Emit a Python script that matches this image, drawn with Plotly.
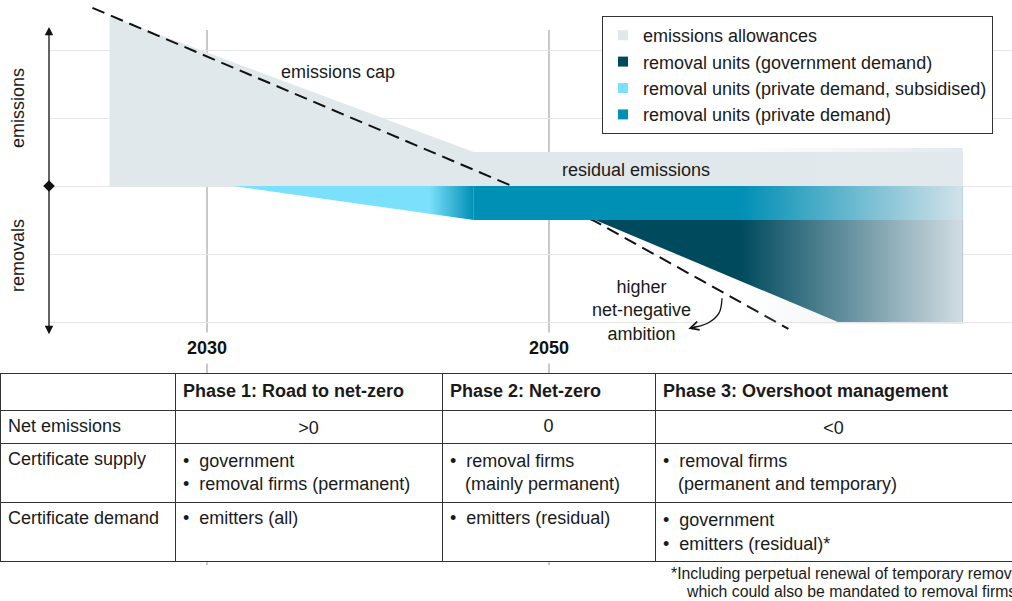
import plotly.graph_objects as go

FONT = "Liberation Sans, Arial, Helvetica, sans-serif"
TXT = "#1a1a1a"

# ---------------- data ----------------
tick_years = [2030, 2050]
tick_labels = ["2030", "2050"]
grid_levels = [-2, -1, 0, 1, 2]

allowance_x = [2024.3, 2024.3, 2045.6, 2074.2, 2074.2]
allowance_y = [0, 2.5, 0.5, 0.5, 0]

subsidised_x = [2031.5, 2045.6, 2045.6]
subsidised_y = [0, 0, -0.5]
subsidised_fade = [2043.0, 2045.6]

private_x = [2045.6, 2074.2, 2074.2, 2045.6]
private_y = [0, 0, -0.5, -0.5]

government_x = [2052.7, 2074.2, 2074.2, 2066.9]
government_y = [-0.5, -0.5, -2.0, -2.0]

fade_x = [2061.2, 2074.2, 2074.2, 2061.2]
fade_y = [0.56, 0.56, -2.03, -2.03]

cap_x = [2023.3, 2052.7, 2064.0]
cap_y = [2.62, -0.52, -2.1]

ambition_x = [2060.12, 2059.94, 2059.30, 2058.30]
ambition_y = [-1.65, -1.87, -2.015, -2.09]
ambition_tip = [2058.15, -2.10]

legend_names = [
    "emissions allowances",
    "removal units (government demand)",
    "removal units (private demand, subsidised)",
    "removal units (private demand)",
]

table_header = ["", "Phase 1: Road to net-zero", "Phase 2: Net-zero",
                "Phase 3: Overshoot management"]
row_net = ["Net emissions", "&gt;0", "0", "&lt;0"]
row_supply = ["Certificate supply",
              "\u2022  government<br>\u2022  removal firms (permanent)",
              "\u2022  removal firms<br>\u00a0\u00a0 (mainly permanent)",
              "\u2022  removal firms<br>\u00a0\u00a0 (permanent and temporary)"]
row_demand = ["Certificate demand",
              "\u2022  emitters (all)",
              "\u2022  emitters (residual)",
              "\u2022  government<br>\u2022  emitters (residual)*"]
footnote_lines = ["*Including perpetual renewal of temporary removals,",
                  "which could also be mandated to removal firms."]

# ---------------- style ----------------
ALLOW = "#e1e8ec"
GOV = "#004a5e"
SUB = "#7be0fb"
PRIV = "#008fb5"
FADE0 = "rgba(226,232,237,0)"
FADE1 = "rgba(226,232,237,0.93)"

X_MIN, X_MAX = 2020.7602, 2077.0760
Y_MIN, Y_MAX = -6.1029, 2.7353
X_DOM = [49 / 1012, 1]

fig = go.Figure()

# gridline-only subplot (vertical year lines)
fig.add_trace(go.Scatter(x=[None], y=[None], xaxis="x", yaxis="y",
                         showlegend=False, hoverinfo="skip"))

common = dict(xaxis="x2", yaxis="y2", hoverinfo="skip", showlegend=False,
              mode="lines", line=dict(width=0))

fig.add_trace(go.Scatter(x=allowance_x, y=allowance_y, fill="toself",
                         fillcolor=ALLOW, **common))
fig.add_trace(go.Scatter(x=cap_x, y=cap_y, xaxis="x2", yaxis="y2", mode="lines",
                         line=dict(color="#111111", width=2, dash="13px,7px"),
                         hoverinfo="skip", showlegend=False))
fig.add_trace(go.Scatter(x=subsidised_x, y=subsidised_y, fill="toself",
                         fillgradient=dict(type="horizontal",
                                           colorscale=[[0, SUB], [1, PRIV]],
                                           start=subsidised_fade[0],
                                           stop=subsidised_fade[1]),
                         **common))
fig.add_trace(go.Scatter(x=private_x, y=private_y, fill="toself",
                         fillcolor=PRIV, **common))
fig.add_trace(go.Scatter(x=government_x, y=government_y, fill="toself",
                         fillcolor=GOV, **common))
fig.add_trace(go.Scatter(x=fade_x, y=fade_y, fill="toself",
                         fillgradient=dict(type="horizontal",
                                           colorscale=[[0, FADE0], [1, FADE1]],
                                           start=fade_x[0], stop=fade_x[1]),
                         **common))
fig.add_trace(go.Scatter(x=ambition_x, y=ambition_y, xaxis="x2", yaxis="y2",
                         mode="lines", line=dict(color="#111111", width=1.3,
                                                 shape="spline"),
                         hoverinfo="skip", showlegend=False))
# axis centre diamond
fig.add_trace(go.Scatter(x=[X_MIN], y=[0], xaxis="x2", yaxis="y2", mode="markers",
                         marker=dict(symbol="diamond", size=9, color="#111111"),
                         cliponaxis=False, hoverinfo="skip", showlegend=False))

# legend entries
for name, col in zip(legend_names, [ALLOW, GOV, SUB, PRIV]):
    fig.add_trace(go.Scatter(x=[None], y=[None], xaxis="x2", yaxis="y2",
                             mode="markers", name=name,
                             marker=dict(symbol="square", size=10, color=col)))

# table
cell_line = dict(color="#333333", width=1)
colw = [175, 267, 213, 357]
fig.add_trace(go.Table(
    domain=dict(x=[0, 1], y=[(601 - 452) / 601, (601 - 373) / 601]),
    columnwidth=colw,
    header=dict(values=["<b>%s</b>" % h if h else "" for h in table_header],
                align="left", height=37, fill_color="white", line=cell_line,
                font=dict(family=FONT, size=18, color=TXT)),
    cells=dict(values=[[v] for v in row_net],
               align=["left", "center", "center", "center"], height=33,
               fill_color="white", line=cell_line,
               font=dict(family=FONT, size=18, color=TXT)),
))
fig.add_trace(go.Table(
    domain=dict(x=[0, 1], y=[0, (601 - 443) / 601]),
    columnwidth=colw,
    header=dict(values=row_supply, align="left", height=51, fill_color="white",
                line=cell_line, font=dict(family=FONT, size=18, color=TXT)),
    cells=dict(values=[[v] for v in row_demand], align="left", height=53,
               fill_color="white", line=cell_line,
               font=dict(family=FONT, size=18, color=TXT)),
))

ann = []
# axis arrows
for tip in [2.34, -2.18]:
    ann.append(dict(x=X_MIN, y=tip, ax=X_MIN, ay=0, xref="x2", yref="y2",
                    axref="x2", ayref="y2", text="", showarrow=True,
                    arrowhead=2, arrowsize=1.3, arrowwidth=1.3,
                    arrowcolor="#111111", standoff=0))
ann.append(dict(x=18 / 1012, y=1.147, xref="paper", yref="y2", text="emissions",
                textangle=-90, showarrow=False, xanchor="center", yanchor="middle",
                font=dict(size=18, color=TXT)))
ann.append(dict(x=18 / 1012, y=-1.03, xref="paper", yref="y2", text="removals",
                textangle=-90, showarrow=False, xanchor="center", yanchor="middle",
                font=dict(size=18, color=TXT)))
ann.append(dict(x=2037.66, y=1.676, xref="x2", yref="y2", text="emissions cap",
                showarrow=False, font=dict(size=18, color=TXT)))
ann.append(dict(x=2055.09, y=0.235, xref="x2", yref="y2", text="residual emissions",
                showarrow=False, font=dict(size=18, color=TXT)))
ann.append(dict(x=2055.38, y=-1.824, xref="x2", yref="y2",
                text="higher<br>net-negative<br>ambition", showarrow=False,
                font=dict(size=18, color=TXT)))
ann.append(dict(x=ambition_tip[0], y=ambition_tip[1], xref="x2", yref="y2",
                ax=10, ay=-3, text="", showarrow=True, arrowhead=5,
                arrowsize=1.3, arrowwidth=1.3, arrowcolor="#111111", standoff=0))
for yr, lab in zip(tick_years, tick_labels):
    ann.append(dict(x=yr, y=1 - 348 / 601, xref="x", yref="paper",
                    xanchor="center", yanchor="middle",
                    text="<b>%s</b>" % lab, showarrow=False, bgcolor="white",
                    borderpad=5, font=dict(size=18, color="#111111")))
for line, py in zip(footnote_lines, [573, 591]):
    ann.append(dict(x=853 / 1012, y=1 - py / 601, xref="paper", yref="paper",
                    xanchor="center", yanchor="middle",
                    text=line, showarrow=False,
                    font=dict(size=15.8, color=TXT)))

fig.update_layout(
    width=1012, height=601,
    margin=dict(l=0, r=0, t=0, b=0),
    paper_bgcolor="white", plot_bgcolor="rgba(0,0,0,0)",
    font=dict(family=FONT, size=18, color=TXT),
    hovermode=False,
    showlegend=True,
    legend=dict(x=602 / 1012, y=1 - 16 / 601, xanchor="left", yanchor="top",
                bordercolor="#333333", borderwidth=1, bgcolor="white",
                font=dict(family=FONT, size=18, color=TXT)),
    xaxis=dict(domain=X_DOM, range=[X_MIN, X_MAX], tickvals=tick_years,
               showticklabels=False, ticks="", showgrid=True,
               gridcolor="#c9c9c9", gridwidth=1.5, zeroline=False,
               showline=False, anchor="y", fixedrange=True),
    yaxis=dict(domain=[1 - 565 / 601, 1 - 30 / 601], range=[0, 1], visible=False,
               showgrid=False, anchor="x", fixedrange=True),
    xaxis2=dict(domain=X_DOM, range=[X_MIN, X_MAX], visible=False,
                showgrid=False, zeroline=False, anchor="y2", fixedrange=True),
    yaxis2=dict(domain=[0, 1], range=[Y_MIN, Y_MAX], tickvals=grid_levels,
                showticklabels=False, ticks="", showgrid=True,
                gridcolor="#e6e6e6", gridwidth=1, zeroline=False,
                showline=False, anchor="x2", fixedrange=True),
    annotations=ann,
)

fig.write_html("out.html",
               config={"displayModeBar": False},
               post_script="document.body.style.margin='0';"
                           "document.body.style.overflow='hidden';")
